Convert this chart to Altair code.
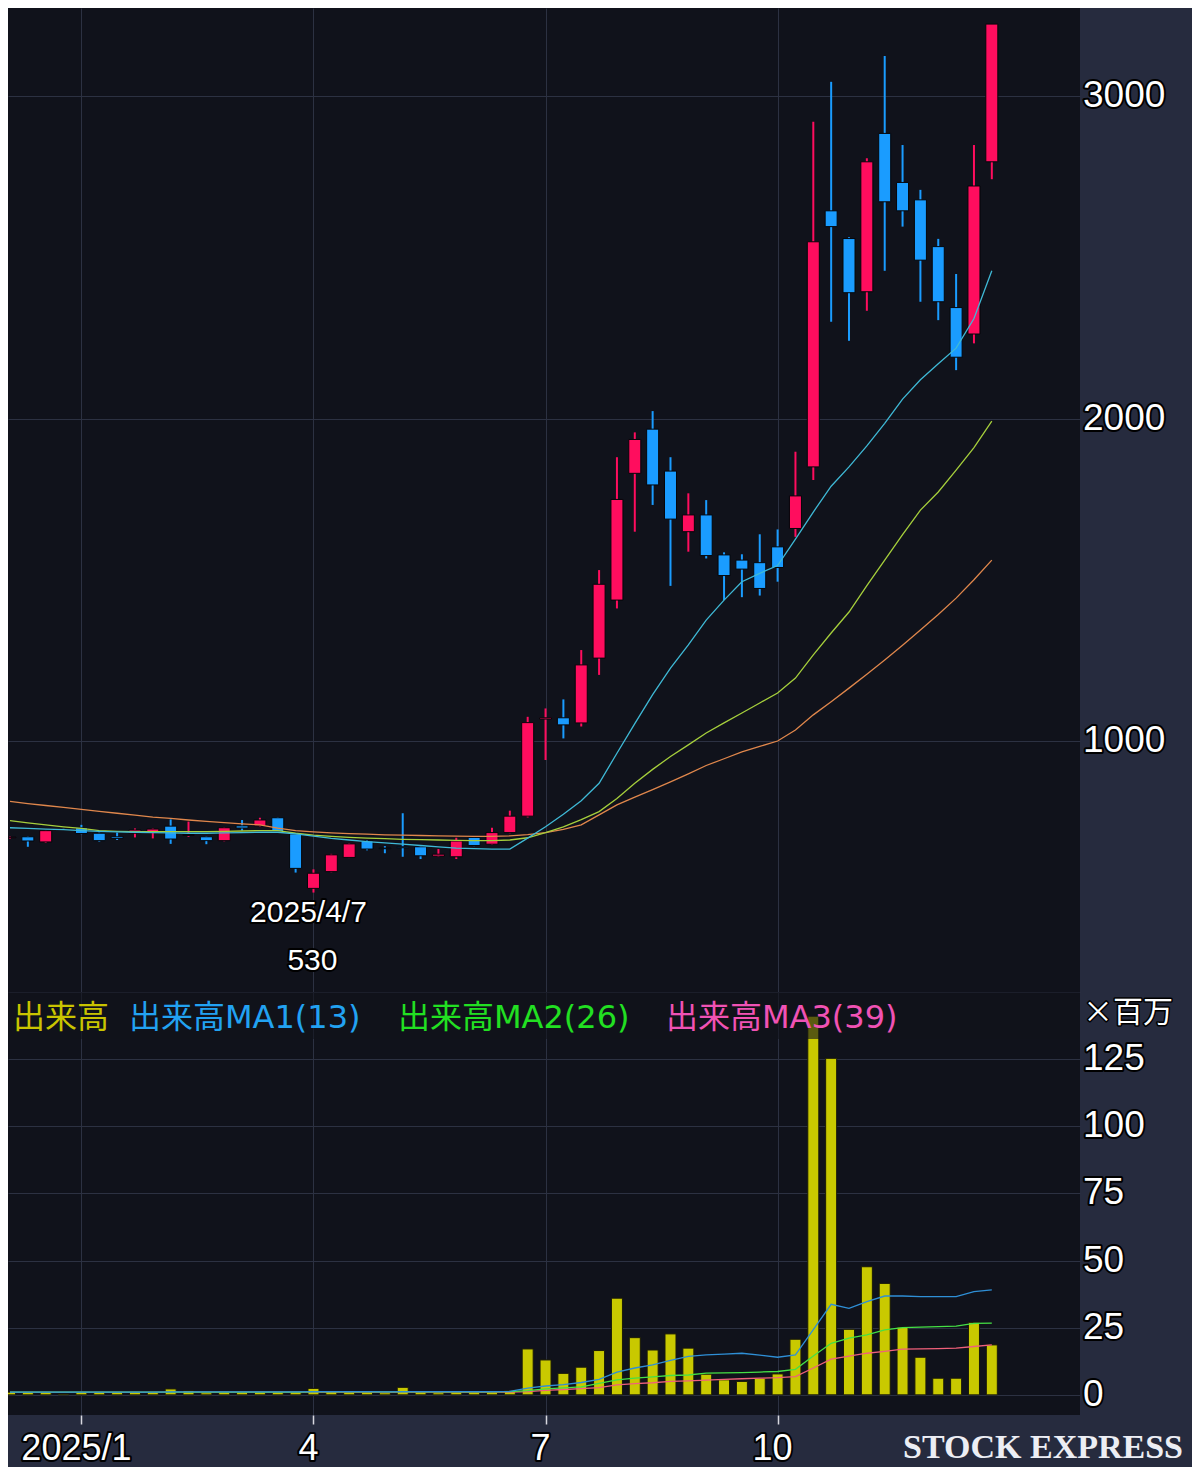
import altair as alt
import pandas as pd

# ---------------- data (weekly candles, Dec 2024 - Dec 2025) ----------------
opens = [700, 703, 687, 726, 731, 714, 703, 714, 716, 736, 707, 703, 691, 737, 737, 762,
         712, 543, 595, 639, 690, 668, 672, 672, 643, 641, 701, 680, 716, 767, 1068, 1072,
         1056, 1257, 1437, 1830, 1967, 1837, 1649, 1701, 1577, 1561, 1553, 1602, 1659, 1850,
         2644, 2558, 2393, 2884, 2732, 2678, 2533, 2344, 2262, 2796]
highs = [704, 705, 724, 728, 740, 716, 716, 729, 729, 757, 750, 705, 733, 755, 762, 764,
         714, 602, 650, 683, 693, 674, 776, 675, 665, 700, 703, 731, 784, 1075, 1101, 1129,
         1282, 1530, 1880, 1957, 2023, 1880, 1768, 1747, 1585, 1579, 1641, 1656, 1897, 2920,
         3044, 2562, 2807, 3124, 2848, 2709, 2557, 2448, 2848, 3223]
lows = [697, 672, 684, 724, 711, 688, 693, 701, 698, 681, 703, 680, 689, 722, 735, 717,
        592, 530, 593, 637, 661, 652, 641, 634, 641, 634, 674, 678, 714, 763, 941, 1008,
        1045, 1205, 1411, 1649, 1732, 1481, 1587, 1566, 1437, 1446, 1451, 1494, 1633, 1809,
        2300, 2241, 2334, 2458, 2595, 2362, 2305, 2150, 2233, 2742]
closes = [702, 690, 722, 725, 713, 691, 698, 724, 727, 696, 710, 691, 731, 730, 755, 719,
          605, 590, 647, 681, 665, 666, 669, 644, 649, 690, 676, 716, 767, 1057, 1072, 1050,
          1236, 1486, 1749, 1935, 1794, 1688, 1701, 1575, 1513, 1533, 1473, 1538, 1760, 2548,
          2595, 2390, 2796, 2672, 2644, 2491, 2362, 2190, 2721, 3223]
# volume, millions of shares
volume = [1.0, 1.0, 1.0, 0.3, 1.0, 1.0, 1.0, 1.0, 1.0, 2.2, 1.6, 0.8, 1.0, 1.0, 0.9, 1.0,
          1.2, 2.4, 1.2, 1.0, 1.0, 0.8, 2.8, 1.0, 0.8, 1.0, 1.0, 1.0, 1.5, 17.1, 13.0, 8.0,
          10.3, 16.5, 36.0, 21.3, 16.7, 22.7, 17.4, 7.7, 5.6, 5.0, 6.2, 7.8, 20.7, 141.0,
          125.3, 24.4, 47.7, 41.5, 25.2, 14.0, 6.2, 6.2, 27.0, 18.6]
# price moving averages
ma13 = [731, 729, 727, 725, 722, 720, 718, 717, 716, 715, 714, 714, 715, 716, 717, 717,
        712, 705, 698, 693, 688, 684, 680, 676, 672, 668, 666, 665, 665, 699, 734, 773,
        815, 869, 962, 1054, 1144, 1226, 1298, 1375, 1437, 1494, 1520, 1544, 1626, 1710,
        1790, 1850, 1915, 1985, 2060, 2120, 2170, 2218, 2310, 2458]
ma26 = [753, 746, 740, 734, 729, 722, 720, 719, 719, 719, 719, 719, 720, 721, 722, 722,
        714, 708, 704, 701, 699, 697, 695, 694, 693, 692, 691, 691, 693, 700, 716, 734,
        756, 781, 822, 869, 912, 952, 988, 1025, 1056, 1087, 1118, 1149, 1195, 1267,
        1335, 1400, 1482, 1561, 1640, 1716, 1772, 1840, 1910, 1992]
ma52 = [813, 806, 800, 794, 788, 782, 776, 770, 764, 760, 755, 751, 747, 743, 740, 730,
        722, 718, 715, 713, 711, 709, 708, 707, 706, 705, 704, 704, 706, 710, 716, 726,
        740, 771, 802, 826, 849, 873, 898, 924, 945, 966, 983, 1000, 1034, 1081,
        1122, 1164, 1207, 1251, 1297, 1344, 1392, 1443, 1500, 1561]
# volume moving averages
vma1 = [1.0, 1.0, 1.0, 1.0, 1.0, 1.0, 1.0, 1.0, 1.0, 1.1, 1.1, 1.1, 1.1, 1.1, 1.1, 1.1,
        1.1, 1.2, 1.2, 1.2, 1.2, 1.1, 1.2, 1.2, 1.2, 1.2, 1.2, 1.2, 1.3, 2.5, 3.3, 3.8,
        4.6, 5.8, 8.5, 10.0, 11.2, 12.8, 14.3, 14.9, 15.2, 15.5, 14.8, 14.0, 14.9, 24.3,
        33.7, 32.2, 34.7, 36.8, 36.8, 36.6, 36.6, 36.6, 38.4, 39.1]
vma2 = [1.0, 1.0, 1.0, 1.0, 1.0, 1.0, 1.0, 1.0, 1.0, 1.0, 1.0, 1.0, 1.0, 1.0, 1.0, 1.0,
        1.0, 1.1, 1.1, 1.1, 1.1, 1.1, 1.1, 1.1, 1.1, 1.1, 1.1, 1.1, 1.2, 1.6, 2.2, 2.6,
        3.0, 4.3, 5.6, 6.2, 6.7, 7.2, 7.4, 8.1, 8.2, 8.3, 8.5, 8.7, 9.5, 14.5,
        19.2, 21.1, 22.3, 24.2, 25.0, 25.2, 25.4, 25.6, 26.6, 26.7]
vma3 = [0.9, 0.9, 0.9, 0.9, 0.9, 0.9, 0.9, 0.9, 0.9, 1.0, 1.0, 1.0, 1.0, 1.0, 1.0, 1.0,
        1.0, 1.0, 1.0, 1.0, 1.0, 1.0, 1.0, 1.0, 1.0, 1.0, 1.0, 1.0, 1.0, 1.2, 1.7, 2.0,
        2.3, 2.7, 3.7, 4.2, 4.5, 5.0, 5.2, 5.5, 5.8, 6.0, 6.2, 6.4, 6.8, 10.0,
        13.3, 14.4, 15.5, 16.2, 17.0, 17.1, 17.2, 17.4, 18.0, 18.6]

tick_idx = [4, 17, 30, 43]
tick_labels = ["2025/1", "4", "7", "10"]
price_ticks = [1000, 2000, 3000]
vol_ticks = [0, 25, 50, 75, 100, 125, 150]
vol_labels = [0, 25, 50, 75, 100, 125]
legend_labels = ["出来高", "出来高MA1(13)", "出来高MA2(26)", "出来高MA3(39)"]
low_idx = 17
low_date = "2025/4/7"
low_value = 530
unit_label = "×百万"
watermark = "STOCK EXPRESS"

# ---------------- styles ----------------
UP = "#ff0d5e"
DOWN = "#1a9cff"
VOLC = "#c9c900"
GRID = "#2c3142"
PLOT_BG = "#10121b"
OUTER_BG = "#262b3e"
FONT = "Liberation Sans"
LFONT = "DejaVu Sans, Noto Sans CJK JP"
JFONT = "Noto Sans CJK JP"

W = 1072
H_PRICE = 984
H_VOL = 423

n = len(opens)
idx = list(range(n))
candles = pd.DataFrame({"i": idx, "open": opens, "high": highs, "low": lows,
                        "close": closes, "vol": volume})
candles["dir"] = ["up" if c >= o else "down" for o, c in zip(opens, closes)]

xs = alt.Scale(domain=[-0.112, 59.94], nice=False, zero=False, padding=0)
ys_price = alt.Scale(domain=[221.7, 3272.9], nice=False, zero=False, padding=0)
ys_vol = alt.Scale(domain=[-7.5, 150], nice=False, zero=False, padding=0)

x_price_axis = alt.Axis(values=tick_idx, labels=False, ticks=False, domain=False,
                        grid=True, gridColor=GRID, gridWidth=1, title=None)
x_vol_axis = alt.Axis(values=tick_idx, labels=False, domain=False, grid=True,
                      gridColor=GRID, gridWidth=1, ticks=True, tickColor="#d8d8e0",
                      tickSize=9, tickWidth=1.5, title=None)
y_price_axis = alt.Axis(orient="right", values=price_ticks, domain=False, ticks=False,
                        labels=False, grid=True, gridColor=GRID, gridWidth=1, title=None)
y_vol_axis = alt.Axis(orient="right", values=vol_ticks, domain=False, ticks=False,
                      labels=False, grid=True, gridColor=GRID, gridWidth=1, title=None)

XP = alt.X("i:Q", scale=xs, axis=x_price_axis)
XV = alt.X("i:Q", scale=xs, axis=x_vol_axis)


def outlined(chart_fn, sw=4):
    """Two text layers: dark outline underneath, white fill on top."""
    return [chart_fn(dict(stroke="#000000", strokeWidth=sw, strokeJoin="round")),
            chart_fn({})]


dir_color = alt.Color("dir:N", scale=alt.Scale(domain=["up", "down"], range=[UP, DOWN]),
                      legend=None)

base = alt.Chart(candles)
wicks = base.mark_rule(strokeWidth=2, clip=True).encode(
    x=XP, y=alt.Y("low:Q", scale=ys_price, axis=y_price_axis), y2="high:Q", color=dir_color,
)
bodies = base.mark_bar(size=12, stroke="#05060a", strokeWidth=1, clip=True).encode(
    x=XP, y=alt.Y("open:Q", scale=ys_price, axis=y_price_axis), y2="close:Q", color=dir_color,
)
ma_layers = [
    alt.Chart(pd.DataFrame({"i": idx, "v": vals})).mark_line(
        strokeWidth=1.3, color=col, clip=True
    ).encode(x=XP, y=alt.Y("v:Q", scale=ys_price, axis=y_price_axis))
    for vals, col in ((ma52, "#e0874c"), (ma26, "#a6cf3c"), (ma13, "#3fb9d6"))
]

ann = pd.DataFrame({"i": [low_idx], "p": [low_value], "d": [low_date], "v": [str(low_value)]})
ann_layers = []
for field, dx, dy in (("d", -5, 20), ("v", -1, 68)):
    ann_layers += outlined(lambda kw, field=field, dx=dx, dy=dy: alt.Chart(ann).mark_text(
        fontSize=30, font=FONT, align="center", baseline="middle", dx=dx, dy=dy,
        color="#ffffff", **kw
    ).encode(x=XP, y=alt.Y("p:Q", scale=ys_price, axis=y_price_axis), text=f"{field}:N"))

price_lab = pd.DataFrame({"p": price_ticks})
price_label_layers = outlined(lambda kw: alt.Chart(price_lab).mark_text(
    fontSize=37, font=FONT, align="left", baseline="middle", color="#ffffff", **kw
).encode(x=alt.value(W + 3), y=alt.Y("p:Q", scale=ys_price, axis=y_price_axis),
         text=alt.Text("p:Q", format="d")))

price = alt.layer(wicks, bodies, *ma_layers, *ann_layers, *price_label_layers).properties(
    width=W, height=H_PRICE)

# ---------------- volume panel ----------------
vbars = base.mark_bar(size=11, color=VOLC, stroke="#1a1a08", strokeWidth=1, clip=True).encode(
    x=XV, y=alt.Y("vol:Q", scale=ys_vol, axis=y_vol_axis), y2=alt.datum(0),
)
vma_layers = [
    alt.Chart(pd.DataFrame({"i": idx, "v": vals})).mark_line(
        strokeWidth=1.3, color=col, clip=True
    ).encode(x=XV, y=alt.Y("v:Q", scale=ys_vol, axis=y_vol_axis))
    for vals, col in ((vma3, "#f0607a"), (vma2, "#45e045"), (vma1, "#2f8fd6"))
]
one = pd.DataFrame({"k": [0]})
band = alt.Chart(one).mark_rect(color=PLOT_BG, opacity=0.6).encode(
    x=alt.value(0), x2=alt.value(W), y=alt.value(0), y2=alt.value(47)
)
legend_colors = ["#c9c400", "#22a2f2", "#22e022", "#f052b4"]
legend_x = [5, 121, 390, 658]
legend_layers = [
    alt.Chart(pd.DataFrame({"t": [lab]})).mark_text(
        font=LFONT, fontSize=32, align="left", baseline="middle", color=col
    ).encode(x=alt.value(lx), y=alt.value(26), text="t:N")
    for lab, col, lx in zip(legend_labels, legend_colors, legend_x)
]
unit_layers = outlined(lambda kw: alt.Chart(pd.DataFrame({"t": [unit_label]})).mark_text(
    font=JFONT, fontSize=30, align="left", baseline="middle", color="#ffffff", **kw
).encode(x=alt.value(W + 3), y=alt.value(21), text="t:N"), sw=3)

vol_lab = pd.DataFrame({"v": vol_labels})
vol_label_layers = outlined(lambda kw: alt.Chart(vol_lab).mark_text(
    fontSize=37, font=FONT, align="left", baseline="middle", color="#ffffff", **kw
).encode(x=alt.value(W + 3), y=alt.Y("v:Q", scale=ys_vol, axis=y_vol_axis),
         text=alt.Text("v:Q", format="d")))

x_lab = pd.DataFrame({"i": tick_idx, "t": tick_labels})
x_label_layers = outlined(lambda kw: alt.Chart(x_lab).mark_text(
    fontSize=36, font=FONT, align="center", baseline="alphabetic", color="#ffffff", dx=-5,
    **kw
).encode(x=XV, y=alt.value(468), text="t:N"))

wm = alt.Chart(pd.DataFrame({"t": [watermark]})).mark_text(
    font="Liberation Serif", fontWeight="bold", fontSize=34, align="right",
    baseline="alphabetic", color="#eceef4"
).encode(x=alt.value(1175), y=alt.value(466), text="t:N")

vol = alt.layer(vbars, *vma_layers, band, *legend_layers, *unit_layers,
                *vol_label_layers, *x_label_layers, wm).properties(width=W, height=H_VOL)

chart = alt.vconcat(price, vol, spacing=0).properties(
    background=OUTER_BG,
    padding={"left": 0, "top": 0, "right": 9, "bottom": 0},
).configure_view(strokeWidth=0, fill=PLOT_BG)

chart.save("out.html", embed_options={"renderer": "svg", "actions": False})
